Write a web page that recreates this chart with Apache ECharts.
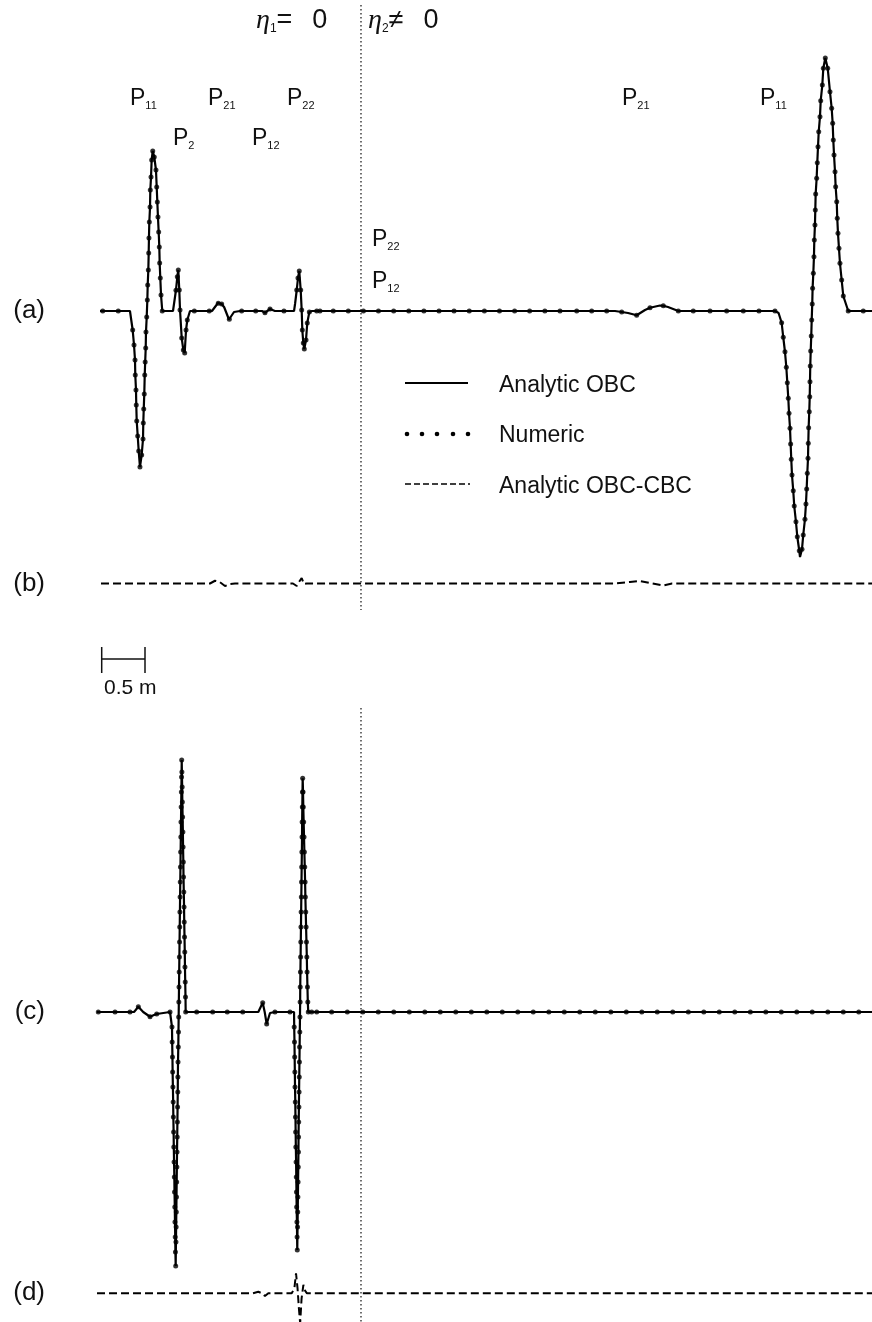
<!DOCTYPE html>
<html>
<head>
<meta charset="utf-8">
<script src="https://cdn.jsdelivr.net/npm/echarts@6/dist/echarts.min.js"></script>
<style>
  html, body { margin: 0; padding: 0; background: #fff; }
  #main { width: 872px; height: 1322px; }
</style>
</head>
<body>
<div id="main"></div>
<script>
// x = distance along the profile (m), y = amplitude (arbitrary units)

// trace (a): numeric samples (dots)
var aNumeric = [
  [0.030,0],[0.203,0],
  [0.363,-7.6],[0.378,-13.6],[0.389,-19.6],[0.392,-25.6],[0.400,-31.6],[0.403,-37.6],[0.408,-44],[0.419,-50],[0.430,-56],[0.444,-62.4],
  [0.463,-57.6],[0.478,-51.2],[0.481,-44.8],[0.486,-39.2],[0.492,-33.2],[0.497,-25.6],[0.502,-20.4],[0.508,-14.8],[0.511,-8.4],[0.519,-2.4],
  [0.526,4.4],[0.530,10.4],[0.537,16.4],[0.541,23.2],[0.544,29.2],[0.548,35.6],[0.556,41.6],[0.559,48.4],[0.567,53.6],[0.574,60.4],[0.586,64],
  [0.603,61.6],[0.622,56.4],[0.630,49.6],[0.637,43.6],[0.644,37.6],[0.652,31.6],[0.659,25.6],[0.663,19.2],[0.670,13.2],[0.678,6.4],[0.692,0],
  [0.844,8.3],[0.859,13.7],[0.870,16.4],[0.881,8.4],[0.889,0.4],[0.908,-10.8],[0.926,-15.6],[0.941,-16.8],[0.956,-7.6],[0.970,-3.6],
  [1.048,0],[1.214,0],[1.314,3.1],[1.352,2.8],[1.437,-3.3],[1.574,0],[1.730,0],[1.833,-0.7],[1.889,0.8],[2.044,0],
  [2.186,8.4],[2.200,13.2],[2.214,16],[2.230,8.4],[2.241,0.4],[2.248,-7.6],[2.259,-12.8],[2.270,-15.2],[2.289,-11.6],[2.303,-4.8],[2.326,-0.4],
  [2.408,0],[2.444,0],[2.592,0],[2.759,0],[2.927,0],[3.094,0],[3.263,0],[3.431,0],[3.599,0],[3.767,0],[3.934,0],[4.103,0],[4.271,0],
  [4.439,0],[4.607,0],[4.774,0],[4.943,0],[5.111,0],[5.297,0],[5.463,0],[5.630,0],[5.797,-0.4],
  [5.963,-1.7],[6.111,1.3],[6.259,2.1],[6.426,0],[6.592,0],[6.778,0],[6.963,0],[7.148,0],[7.322,0],[7.500,0],
  [7.574,-4.7],[7.592,-10.5],[7.611,-16.3],[7.626,-22.5],[7.637,-28.7],[7.648,-34.9],[7.656,-40.9],[7.667,-46.9],[7.674,-53.2],[7.681,-59.3],
  [7.689,-65.6],[7.703,-71.9],[7.714,-78],[7.733,-84.3],[7.748,-90.3],[7.770,-95.9],
  [7.800,-95.3],[7.814,-89.6],[7.833,-83.3],[7.844,-77.2],[7.852,-71.2],[7.859,-64.9],[7.867,-58.9],[7.870,-52.9],[7.874,-46.7],[7.881,-40.3],
  [7.886,-34.3],[7.889,-28.3],[7.892,-22],[7.897,-16],[7.903,-10],[7.908,-3.6],[7.914,2.8],[7.918,9.1],[7.926,15.1],[7.933,21.7],[7.937,28.4],
  [7.944,34.4],[7.948,40.4],[7.952,46.8],[7.963,53.1],[7.970,59.3],[7.978,65.7],[7.986,71.7],[8.000,77.7],[8.008,84.1],[8.026,90.4],[8.037,97.1],[8.059,101.2],
  [8.086,97.1],[8.111,87.7],[8.130,81.1],[8.141,75.1],[8.148,68.4],[8.156,62.4],[8.167,55.7],[8.174,49.7],[8.186,43.7],[8.192,37.1],[8.200,31.1],
  [8.211,25.1],[8.222,19.1],[8.241,12.4],[8.259,6],[8.314,0],[8.481,0]
];
// trace (a): extra vertices of the analytic curve between samples
var aAnalyticExtra = [
  [0,0],[0.333,0],[0.448,-63.2],[0.589,64.4],[0.811,0],[1.000,0],[1.244,0],[1.311,3.2],[1.380,1.5],[1.433,-3.4],[1.489,-0.4],
  [1.556,0],[1.800,0],[1.944,0],[2.156,0],[2.168,3],[2.218,16.8],[2.356,0],[5.722,0],[5.867,-0.8],[6.056,0.4],[6.222,2.2],[6.311,1.6],
  [7.522,0],[7.540,-0.8],[7.778,-98.4],[8.578,0]
];
// trace (b): analytic OBC - CBC difference
var bDiff = [
  [0.011,0],[1.222,0],[1.278,1.1],[1.333,0.5],[1.389,-1.0],[1.444,-0.2],[1.500,0],[2.144,0],[2.186,-1.0],[2.211,0.6],[2.241,2.2],
  [2.267,-0.2],[2.297,0],[5.722,0],[5.889,0.6],[6.000,1.0],[6.111,0.2],[6.256,-0.8],[6.356,0],[8.578,0]
];
// trace (c): numeric samples
var cNumeric = [
  [-0.019,0],[0.167,0],[0.333,0],[0.426,2.1],[0.556,-1.9],[0.630,-0.8],[0.778,0],
  [0.800,-6],[0.802,-12],[0.805,-18],[0.807,-24],[0.810,-30],[0.813,-36],[0.815,-42],[0.818,-48],[0.820,-54],[0.823,-60],[0.826,-66],
  [0.828,-72],[0.831,-78],[0.833,-84],[0.836,-90],[0.838,-96],[0.841,-101.6],
  [0.844,-92],[0.846,-86],[0.848,-80],[0.850,-74],[0.852,-68],[0.854,-62],[0.856,-56],[0.858,-50],[0.860,-44],[0.862,-38],[0.864,-32],
  [0.865,-26],[0.867,-20],[0.870,-14],[0.872,-8],[0.874,-2],[0.876,4],[0.878,10],[0.880,16],[0.882,22],[0.884,28],[0.886,34],[0.888,40],
  [0.890,46],[0.892,52],[0.894,58],[0.896,64],[0.898,70],[0.900,76],[0.902,82],[0.904,88],[0.906,94],[0.908,100.8],
  [0.910,96],[0.913,90],[0.915,84],[0.918,78],[0.921,72],[0.923,66],[0.926,60],[0.928,54],[0.931,48],[0.934,42],[0.936,36],[0.939,30],
  [0.942,24],[0.944,18],[0.947,12],[0.950,6],[0.952,0],
  [1.074,0],[1.252,0],[1.414,0],[1.586,0],[1.808,3.7],[1.852,-4.8],[1.944,0],[2.111,0],
  [2.158,-6],[2.161,-12],[2.163,-18],[2.165,-24],[2.167,-30],[2.170,-36],[2.172,-42],[2.174,-48],[2.176,-54],[2.179,-60],[2.181,-66],
  [2.183,-72],[2.185,-78],[2.188,-84],[2.190,-90],[2.192,-95.2],
  [2.195,-86],[2.197,-80],[2.199,-74],[2.201,-68],[2.203,-62],[2.205,-56],[2.206,-50],[2.208,-44],[2.210,-38],[2.212,-32],[2.214,-26],
  [2.216,-20],[2.218,-14],[2.220,-8],[2.222,-2],[2.224,4],[2.225,10],[2.227,16],[2.229,22],[2.231,28],[2.233,34],[2.235,40],[2.237,46],
  [2.239,52],[2.241,58],[2.243,64],[2.245,70],[2.246,76],[2.248,82],[2.250,88],[2.252,93.5],
  [2.256,88],[2.259,82],[2.263,76],[2.267,70],[2.271,64],[2.275,58],[2.279,52],[2.282,46],[2.286,40],[2.290,34],[2.294,28],[2.298,22],
  [2.301,16],[2.305,10],[2.309,4],[2.314,0],
  [2.352,0],[2.408,0],[2.574,0],[2.748,0],[2.920,0],[3.092,0],[3.264,0],[3.437,0],[3.609,0],[3.781,0],[3.953,0],[4.126,0],[4.298,0],
  [4.470,0],[4.642,0],[4.814,0],[4.987,0],[5.159,0],[5.331,0],[5.503,0],[5.676,0],[5.848,0],[6.020,0],[6.192,0],[6.364,0],[6.537,0],
  [6.709,0],[6.881,0],[7.053,0],[7.226,0],[7.398,0],[7.570,0],[7.742,0],[7.914,0],[8.087,0],[8.259,0],[8.431,0]
];
var cAnalyticExtra = [
  [-0.033,0],[0.378,0],[0.480,0],[0.600,-1.2],[0.797,0],[0.960,0],[1.759,0],[1.830,0],[1.889,-0.4],[2.156,0],[2.330,0],[8.578,0]
];
// trace (d): analytic OBC - CBC difference
var dDiff = [
  [-0.033,0],[1.700,0],[1.759,0.6],[1.800,0],[1.833,-1.1],[1.870,0],[2.130,0],[2.160,2],[2.178,8],[2.195,2],[2.210,-6],[2.224,-12],
  [2.240,-2],[2.260,3.4],[2.280,1],[2.300,0],[8.578,0]
];
// boundary between eta1 = 0 and eta2 != 0 (m), with its vertical extent in each panel
var boundaryX = 2.9;
var boundaryTop = [122.4, -119.6];
var boundaryBottom = [121.6, -124];

var panelNames = ['(a)', '(b)', '(c)', '(d)'];
var legendNames = ['Analytic OBC', 'Numeric', 'Analytic OBC-CBC'];

// analytic curve passes through every numeric sample
function merged(a, b) {
  return a.concat(b).sort(function (p, q) { return p[0] - q[0]; });
}

var SANS = 'Liberation Sans, Arial, sans-serif';
var chart = echarts.init(document.getElementById('main'));

var gridTops = [36, 308.5, 737, 1018.3];
var grids = [], xAxes = [], yAxes = [];
gridTops.forEach(function (t, i) {
  grids.push({ left: 91, right: 0, top: t, height: 550, outerBoundsMode: 'none', containLabel: false });
  xAxes.push({ type: 'value', gridIndex: i, min: -0.1, max: 8.578, show: false });
  yAxes.push({
    type: 'value', gridIndex: i, min: -110, max: 110, interval: 110,
    axisLine: { show: false }, axisTick: { show: false }, splitLine: { show: false },
    axisLabel: {
      margin: 46, fontSize: 26, color: '#111', fontFamily: SANS,
      formatter: function (v) { return v === 0 ? panelNames[i] : ''; }
    }
  });
});

function solid(data, idx) {
  return { type: 'line', xAxisIndex: idx, yAxisIndex: idx, data: data, showSymbol: false, clip: false,
    lineStyle: { color: '#000', width: 2.2 }, z: 3 };
}
function dots(data, idx) {
  return { type: 'scatter', xAxisIndex: idx, yAxisIndex: idx, data: data, symbol: 'circle', symbolSize: 5,
    itemStyle: { color: '#000' }, z: 4 };
}
function dashed(data, idx) {
  return { type: 'line', xAxisIndex: idx, yAxisIndex: idx, data: data, showSymbol: false, clip: false,
    lineStyle: { color: '#000', width: 2, type: [8, 4] }, z: 3 };
}
function divider(ext, idx) {
  return { type: 'line', xAxisIndex: idx, yAxisIndex: idx, showSymbol: false, clip: false,
    data: [[boundaryX, ext[0]], [boundaryX, ext[1]]],
    lineStyle: { color: '#222', width: 1.3, type: [1.5, 2.5] }, z: 2 };
}

function pLabel(sub, x, y) {
  return {
    type: 'text', x: x, y: y,
    style: {
      text: '{p|P}{s|' + sub + '}', verticalAlign: 'middle',
      rich: {
        p: { fontSize: 23, lineHeight: 24, fontFamily: SANS, fill: '#111' },
        s: { fontSize: 11, lineHeight: 10, fontFamily: SANS, fill: '#111', verticalAlign: 'bottom' }
      }
    }
  };
}
function etaLabel(sub, rel, x) {
  return {
    type: 'text', x: x, y: 21,
    style: {
      text: '{e|\u03b7}{s|' + sub + '}{t|' + rel + '}{z|0}', verticalAlign: 'middle',
      rich: {
        e: { fontSize: 28, lineHeight: 28, fontFamily: 'Liberation Serif, serif', fontStyle: 'italic', fill: '#111' },
        s: { fontSize: 12, lineHeight: 12, fontFamily: SANS, fill: '#111', verticalAlign: 'bottom' },
        t: { fontSize: 27, lineHeight: 28, fontFamily: SANS, fill: '#111' },
        z: { fontSize: 27, lineHeight: 28, fontFamily: SANS, fill: '#111', padding: [0, 0, 0, 20] }
      }
    }
  };
}
function plain(text, x, y, size) {
  return { type: 'text', x: x, y: y, style: { text: text, fontSize: size, fontFamily: SANS, fill: '#111', verticalAlign: 'middle' } };
}

var graphics = [
  etaLabel('1', '=', 256), etaLabel('2', '\u2260', 368),
  pLabel('11', 130, 99), pLabel('21', 208, 99), pLabel('22', 287, 99),
  pLabel('2', 173, 139), pLabel('12', 252, 139),
  pLabel('21', 622, 99), pLabel('11', 760, 99),
  pLabel('22', 372, 240), pLabel('12', 372, 282),
  // legend
  { type: 'line', shape: { x1: 405, y1: 383, x2: 468, y2: 383 }, style: { stroke: '#000', lineWidth: 2 } },
  { type: 'line', shape: { x1: 405, y1: 484, x2: 470, y2: 484 }, style: { stroke: '#000', lineWidth: 1.5, lineDash: [6, 3] } },
  plain(legendNames[0], 499, 386, 23), plain(legendNames[1], 499, 436, 23), plain(legendNames[2], 499, 487, 23),
  // scale bar
  { type: 'line', shape: { x1: 101.7, y1: 659, x2: 145, y2: 659 }, style: { stroke: '#111', lineWidth: 1.5 } },
  { type: 'line', shape: { x1: 101.7, y1: 647, x2: 101.7, y2: 673 }, style: { stroke: '#111', lineWidth: 1.5 } },
  { type: 'line', shape: { x1: 145, y1: 647, x2: 145, y2: 673 }, style: { stroke: '#111', lineWidth: 1.5 } },
  plain('0.5 m', 104, 688, 21)
];
[407, 422, 437, 453, 468].forEach(function (cx) {
  graphics.push({ type: 'circle', shape: { cx: cx, cy: 434, r: 2.3 }, style: { fill: '#000' } });
});

chart.setOption({
  animation: false,
  backgroundColor: '#fff',
  grid: grids,
  xAxis: xAxes,
  yAxis: yAxes,
  graphic: graphics,
  series: [
    divider(boundaryTop, 0),
    divider(boundaryBottom, 2),
    solid(merged(aNumeric, aAnalyticExtra), 0),
    dots(aNumeric, 0),
    dashed(bDiff, 1),
    solid(merged(cNumeric, cAnalyticExtra), 2),
    dots(cNumeric, 2),
    dashed(dDiff, 3)
  ]
});
</script>
</body>
</html>
